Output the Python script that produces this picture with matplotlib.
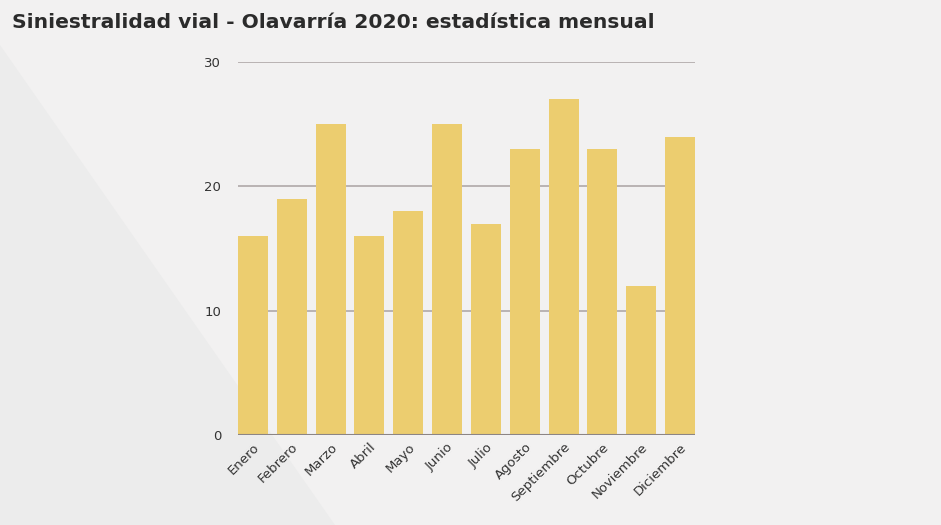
import matplotlib.pyplot as plt
import numpy as np
from matplotlib.patches import Polygon

meses = ['Enero', 'Febrero', 'Marzo', 'Abril', 'Mayo', 'Junio', 'Julio',
         'Agosto', 'Septiembre', 'Octubre', 'Noviembre', 'Diciembre']
siniestros = [16, 19, 25, 16, 18, 25, 17, 23, 27, 23, 12, 24]
yticks = [0, 10, 20, 30]

plt.rcParams['font.family'] = ['DejaVu Sans']

fig = plt.figure(figsize=(9.41, 5.25), dpi=100)
fig.patch.set_facecolor('#f2f1f1')

# background axes for the diagonal band (lower-left)
bgax = fig.add_axes([0, 0, 1, 1], zorder=-1)
bgax.set_xlim(0, 941)
bgax.set_ylim(525, 0)
bgax.axis('off')
bgax.add_patch(Polygon([(0, 45), (335, 525), (0, 525)], closed=True,
                       facecolor='#ececec', edgecolor='none'))

ax = fig.add_axes([238 / 941, 90 / 525, 457 / 941, 373 / 525])
ax.set_facecolor('none')

x = np.arange(len(meses))
ax.bar(x, siniestros, width=0.77, color='#eccd6f', zorder=3)

ax.set_ylim(0, 30)
ax.set_xlim(-0.385, len(meses) - 1 + 0.385)
ax.set_yticks(yticks)
ax.yaxis.grid(True, color='#b5aeae', linewidth=1.3, zorder=0)
ax.axhline(0, color='#8c8585', linewidth=1.5, zorder=4)
for s in ax.spines.values():
    s.set_visible(False)
ax.tick_params(axis='both', length=0, labelsize=9.5, labelcolor='#333333')
ax.tick_params(axis='y', pad=12)
ax.tick_params(axis='x', pad=4)
ax.set_xticks(x)
ax.set_xticklabels(meses, rotation=45, ha='right', rotation_mode='anchor')

fig.text(12 / 941, 1 - 23 / 525, 'Siniestralidad vial - Olavarría 2020: estadística mensual',
         fontsize=14.6, fontweight='bold', color='#2b2b2b', va='center', ha='left')

fig.savefig('out.png', dpi=100, facecolor=fig.get_facecolor())
